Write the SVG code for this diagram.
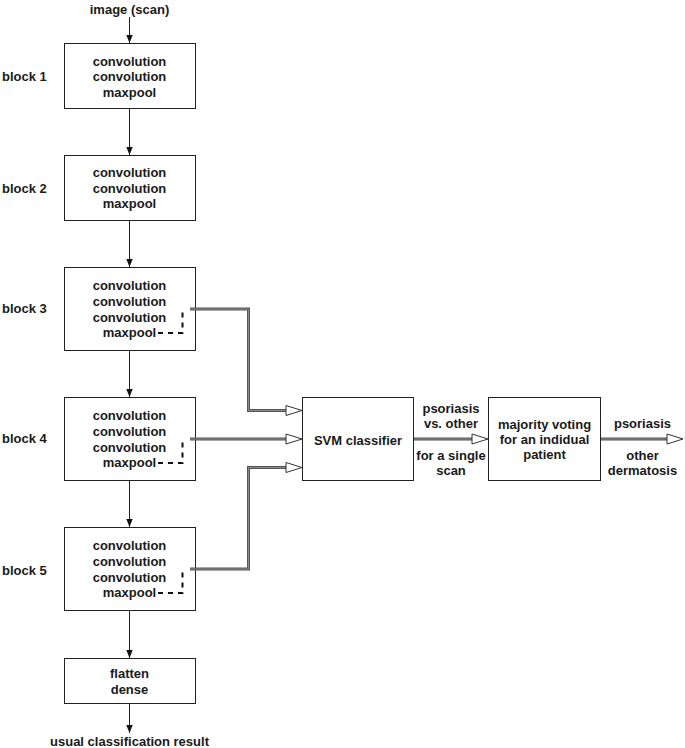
<svg xmlns="http://www.w3.org/2000/svg" width="685" height="748" viewBox="0 0 685 748">
<defs>
<style>
text{font-family:"Liberation Sans",Arial,sans-serif;font-weight:bold;font-size:13px;fill:#1a1a1a;dominant-baseline:central}
.c{text-anchor:middle}
.box{fill:#fff;stroke:#222;stroke-width:1}
.thin{fill:none;stroke:#222;stroke-width:1}
.dbl{fill:none;stroke:#555;stroke-width:3}
.dblin{fill:none;stroke:#8a8a8a;stroke-width:1}
.dash{fill:none;stroke:#111;stroke-width:2;stroke-dasharray:5 5}
</style>
<marker id="ah" viewBox="0 0 10 10" refX="10" refY="5" markerWidth="8" markerHeight="9" markerUnits="userSpaceOnUse" orient="auto">
<path d="M0,1 L10,5 L0,9 Z" fill="#111"/>
</marker>
</defs>
<rect width="685" height="748" fill="#fff"/>

<g id="input-label"><text class="c" x="129.5" y="9">image (scan)</text></g>

<g id="block1">
<text x="2" y="76">block 1</text>
<rect class="box" x="64.5" y="43.5" width="131" height="65"/>
<text class="c" x="129.5" y="61">convolution</text>
<text class="c" x="129.5" y="76.7">convolution</text>
<text class="c" x="129.5" y="92.3">maxpool</text>
</g>

<g id="block2">
<text x="2" y="188">block 2</text>
<rect class="box" x="64.5" y="155.5" width="131" height="65"/>
<text class="c" x="129.5" y="172.7">convolution</text>
<text class="c" x="129.5" y="188.3">convolution</text>
<text class="c" x="129.5" y="203.7">maxpool</text>
</g>

<g id="block3">
<text x="2" y="308">block 3</text>
<rect class="box" x="64.5" y="267.5" width="131" height="83"/>
<text class="c" x="129.5" y="285.7">convolution</text>
<text class="c" x="129.5" y="301.5">convolution</text>
<text class="c" x="129.5" y="317.2">convolution</text>
<text class="c" x="129.5" y="332.7">maxpool</text>
<path class="dash" d="M158,333 H182.5 V309"/>
</g>

<g id="block4">
<text x="2" y="438">block 4</text>
<rect class="box" x="64.5" y="397.5" width="131" height="83"/>
<text class="c" x="129.5" y="415.7">convolution</text>
<text class="c" x="129.5" y="431.5">convolution</text>
<text class="c" x="129.5" y="447.2">convolution</text>
<text class="c" x="129.5" y="462.7">maxpool</text>
<path class="dash" d="M158,463 H182.5 V439"/>
</g>

<g id="block5">
<text x="2" y="570">block 5</text>
<rect class="box" x="64.5" y="527.5" width="131" height="83"/>
<text class="c" x="129.5" y="545.7">convolution</text>
<text class="c" x="129.5" y="561.5">convolution</text>
<text class="c" x="129.5" y="577.2">convolution</text>
<text class="c" x="129.5" y="592.7">maxpool</text>
<path class="dash" d="M158,593 H182.5 V569"/>
</g>

<g id="dense">
<rect class="box" x="64.5" y="658.5" width="131" height="45"/>
<text class="c" x="129.5" y="673.5">flatten</text>
<text class="c" x="129.5" y="689">dense</text>
</g>

<g id="output-label"><text class="c" x="129.5" y="741">usual classification result</text></g>

<g id="svm">
<rect class="box" x="302.5" y="397.5" width="111" height="83"/>
<text class="c" x="358" y="440">SVM classifier</text>
</g>

<g id="majority">
<rect class="box" x="488.5" y="397.5" width="112" height="83"/>
<text class="c" x="544.5" y="424">majority voting</text>
<text class="c" x="544.5" y="439.3">for an indidual</text>
<text class="c" x="544.5" y="454.5">patient</text>
</g>

<g id="edge-labels">
<text class="c" x="451" y="408.7">psoriasis</text>
<text class="c" x="451" y="423.5">vs. other</text>
<text class="c" x="451" y="455.7">for a single</text>
<text class="c" x="451" y="470.7">scan</text>
<text class="c" x="642.5" y="423.3">psoriasis</text>
<text class="c" x="642.5" y="455">other</text>
<text class="c" x="642.5" y="470">dermatosis</text>
</g>

<g id="connectors">
<line class="thin" x1="129.5" y1="17" x2="129.5" y2="43" marker-end="url(#ah)"/>
<line class="thin" x1="129.5" y1="109" x2="129.5" y2="155" marker-end="url(#ah)"/>
<line class="thin" x1="129.5" y1="221" x2="129.5" y2="267" marker-end="url(#ah)"/>
<line class="thin" x1="129.5" y1="351" x2="129.5" y2="397" marker-end="url(#ah)"/>
<line class="thin" x1="129.5" y1="481" x2="129.5" y2="527" marker-end="url(#ah)"/>
<line class="thin" x1="129.5" y1="611" x2="129.5" y2="658" marker-end="url(#ah)"/>
<line class="thin" x1="129.5" y1="704" x2="129.5" y2="733" marker-end="url(#ah)"/>

<path class="dbl" d="M190,309 H248.5 V410.5 H287"/>
<path class="dblin" d="M190,309 H248.5 V410.5 H287"/>
<path class="dbl" d="M190,439 H287"/>
<path class="dblin" d="M190,439 H287"/>
<path class="dbl" d="M190,569 H248.5 V467.5 H287"/>
<path class="dblin" d="M190,569 H248.5 V467.5 H287"/>
<path class="dbl" d="M414,439 H473"/>
<path class="dblin" d="M414,439 H473"/>
<path class="dbl" d="M601,439 H668"/>
<path class="dblin" d="M601,439 H668"/>

<path d="M286,405.5 L302,410.5 L286,415.5 Z" fill="#fff" stroke="#333" stroke-width="1"/>
<path d="M286,434 L302,439 L286,444 Z" fill="#fff" stroke="#333" stroke-width="1"/>
<path d="M286,462.5 L302,467.5 L286,472.5 Z" fill="#fff" stroke="#333" stroke-width="1"/>
<path d="M472,434 L488,439 L472,444 Z" fill="#fff" stroke="#333" stroke-width="1"/>
<path d="M667,434 L683,439 L667,444 Z" fill="#fff" stroke="#333" stroke-width="1"/>
</g>
</svg>
